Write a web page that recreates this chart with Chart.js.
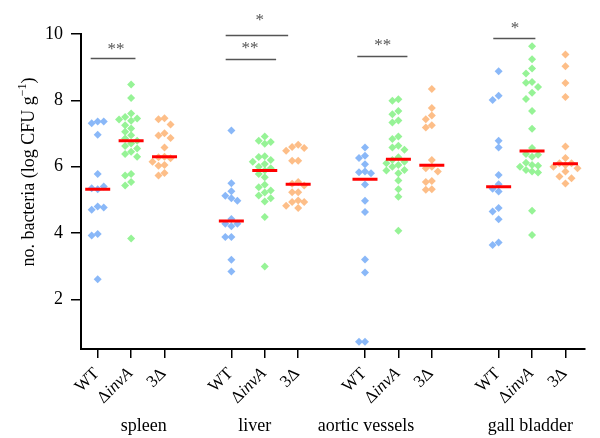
<!DOCTYPE html>
<html lang="en">
<head>
<meta charset="UTF-8">
<title>Bacterial load per organ</title>
<script src="https://cdn.jsdelivr.net/npm/chart.js"></script>
<style>
  body { margin: 0; background: #fff; }
  .chart-box { width: 600px; height: 438px; position: relative; }
</style>
</head>
<body>
<div class="chart-box"><canvas id="cfuChart"></canvas></div>
<script>
// groups on the x axis
const organs = ['spleen', 'liver', 'aortic vessels', 'gall bladder'];
const strains = ['WT', 'ΔinvA', '3Δ'];
const yTicks = [2, 4, 6, 8, 10];

// log CFU per gram
const spleenWT   = [7.36, 7.31, 7.36, 6.96, 5.78, 5.32, 5.35, 5.40, 4.80, 4.70, 4.77, 3.97, 3.92, 2.60];
const spleenInvA = [8.48, 8.07, 7.60, 7.50, 7.45, 7.42, 7.38, 7.25, 7.15, 7.05, 6.95, 6.85, 6.78, 6.70, 6.62, 6.55, 6.45, 6.38, 6.30, 5.78, 5.73, 5.54, 5.43, 3.83];
const spleen3D   = [7.46, 7.43, 7.27, 7.01, 6.94, 6.86, 6.58, 6.30, 6.28, 6.25, 6.15, 6.05, 6.03, 5.81, 5.73];

const liverWT   = [7.09, 5.50, 5.26, 5.12, 5.05, 4.97, 4.42, 4.28, 4.28, 4.20, 3.88, 3.88, 3.19, 2.84];
const liverInvA = [6.91, 6.78, 6.74, 6.69, 6.31, 6.29, 6.20, 6.15, 6.08, 6.00, 5.95, 5.88, 5.78, 5.68, 5.45, 5.38, 5.28, 5.22, 5.13, 5.05, 4.95, 4.48, 2.99];
const liver3D   = [6.66, 6.59, 6.56, 6.48, 6.18, 6.18, 5.54, 5.48, 5.43, 5.23, 5.23, 4.98, 4.93, 4.93, 4.82, 4.75];

const aorticWT   = [6.58, 6.33, 6.26, 6.07, 5.85, 5.83, 5.80, 5.46, 4.97, 4.63, 3.20, 2.81, 0.72, 0.72];
const aorticInvA = [8.03, 7.99, 7.68, 7.58, 7.39, 7.33, 6.91, 6.83, 6.63, 6.58, 6.51, 6.28, 6.20, 6.15, 6.10, 6.05, 6.00, 5.90, 5.88, 5.80, 5.58, 5.32, 5.09, 4.07];
const aortic3D   = [8.34, 7.77, 7.54, 7.43, 7.25, 7.18, 6.20, 6.00, 5.95, 5.85, 5.57, 5.54, 5.32, 5.30];

const gallWT   = [8.88, 8.14, 8.01, 6.78, 6.58, 5.75, 5.47, 5.33, 5.25, 4.75, 4.65, 4.41, 3.71, 3.64];
const gallInvA = [9.63, 9.24, 8.96, 8.81, 8.55, 8.53, 8.40, 8.23, 8.04, 7.68, 7.14, 6.56, 6.38, 6.36, 6.30, 6.12, 6.05, 6.03, 6.00, 5.90, 5.85, 5.82, 4.67, 3.94];
const gall3D   = [9.38, 9.03, 8.52, 8.10, 6.61, 6.26, 6.10, 6.10, 6.05, 6.00, 5.95, 5.85, 5.70, 5.65, 5.49];

// medians (red bars) per organ: WT, ΔinvA, 3Δ
const spleenMedians = [5.32, 6.78, 6.30];
const liverMedians  = [4.36, 5.88, 5.47];
const aorticMedians = [5.62, 6.22, 6.04];
const gallMedians   = [5.39, 6.47, 6.09];

const groups = [
  [spleenWT, spleenInvA, spleen3D],
  [liverWT, liverInvA, liver3D],
  [aorticWT, aorticInvA, aortic3D],
  [gallWT, gallInvA, gall3D]
];
const medians = [spleenMedians, liverMedians, aorticMedians, gallMedians];
const colors = ['rgb(138,184,248)', 'rgb(150,243,150)', 'rgb(253,190,136)'];

// x position of a strain inside an organ group (one empty slot between groups)
const slot = (g, k) => g * 4 + k;
const tickIdx = [];
organs.forEach((o, g) => strains.forEach((s, k) => tickIdx.push(slot(g, k))));

// simple beeswarm so overlapping points spread sideways
function swarm(values, center) {
  const step = 0.18, gapY = 0.2;
  const placed = [];
  return values.map(v => {
    let off = 0;
    for (let k = 0; k < 9; k++) {
      off = k === 0 ? 0 : (k % 2 ? -1 : 1) * Math.ceil(k / 2) * step;
      const hit = placed.some(p => Math.abs(p.y - v) < gapY && Math.abs(p.off - off) < step * 0.9);
      if (!hit) break;
    }
    placed.push({ y: v, off: off });
    return { x: center + off, y: v };
  });
}

const datasets = [];
groups.forEach((grp, g) => {
  grp.forEach((vals, k) => {
    datasets.push({
      label: organs[g] + ' ' + strains[k],
      data: swarm(vals, slot(g, k)),
      backgroundColor: colors[k],
      pointStyle: 'rectRot',
      pointRadius: 4,
      pointBorderWidth: 0,
      order: 2
    });
  });
});
datasets.push({
  label: 'median',
  data: medians.flatMap((m, g) => m.map((v, k) => ({ x: slot(g, k), y: v }))),
  pointStyle: 'line',
  pointRadius: 12.5,
  pointBorderWidth: 3,
  pointBorderColor: '#ff0000',
  borderColor: '#ff0000',
  order: 1
});

// significance bars, in axis units
const sigBars = [
  { from: -0.21, to: 1.13, y: 9.27, text: '**', at: 0.55, ty: 9.64 },
  { from: 3.83, to: 5.70, y: 9.98, text: '*', at: 4.85, ty: 10.52 },
  { from: 3.83, to: 5.34, y: 9.26, text: '**', at: 4.56, ty: 9.67 },
  { from: 7.77, to: 9.27, y: 9.35, text: '**', at: 8.53, ty: 9.77 },
  { from: 11.84, to: 13.10, y: 9.89, text: '*', at: 12.49, ty: 10.27 }
];
const organLabelAt = [1.38, 4.70, 8.03, 12.95];

const serif = '"Liberation Serif", "Times New Roman", serif';

function drawRuns(ctx, runs, xRight, y) {
  let total = 0;
  runs.forEach(r => { ctx.font = r.font; total += ctx.measureText(r.t).width; });
  let x = xRight - total;
  runs.forEach(r => {
    ctx.font = r.font;
    ctx.fillText(r.t, x, y + (r.dy || 0));
    x += ctx.measureText(r.t).width;
  });
}

const figureText = {
  id: 'figureText',
  afterDraw(chart) {
    const ctx = chart.ctx;
    const xs = chart.scales.x, ys = chart.scales.y;
    const area = chart.chartArea;
    ctx.save();
    ctx.fillStyle = '#000';
    ctx.textAlign = 'left';

    // strain labels under each tick, rotated
    const fs = 17;
    tickIdx.forEach((v, i) => {
      const s = strains[i % 3];
      const runs = s === 'ΔinvA'
        ? [{ t: 'Δ', font: fs + 'px ' + serif }, { t: 'invA', font: 'italic ' + fs + 'px ' + serif }]
        : [{ t: s, font: fs + 'px ' + serif }];
      ctx.save();
      ctx.translate(xs.getPixelForValue(v) - 1, area.bottom + 22);
      ctx.rotate(-Math.PI / 4);
      ctx.textBaseline = 'middle';
      drawRuns(ctx, runs, 0, 0);
      ctx.restore();
    });

    // organ names
    ctx.font = '18px ' + serif;
    ctx.textAlign = 'center';
    ctx.textBaseline = 'alphabetic';
    organs.forEach((o, g) => ctx.fillText(o, xs.getPixelForValue(organLabelAt[g]), 431));

    // y axis title with superscript
    ctx.save();
    ctx.translate(29, 172);
    ctx.rotate(-Math.PI / 2);
    ctx.textAlign = 'left';
    ctx.textBaseline = 'middle';
    const tRuns = [
      { t: 'no. bacteria (log CFU g', font: '18px ' + serif },
      { t: '\u22121', font: '12px ' + serif, dy: -6 },
      { t: ')', font: '18px ' + serif }
    ];
    let w = 0;
    tRuns.forEach(r => { ctx.font = r.font; w += ctx.measureText(r.t).width; });
    drawRuns(ctx, tRuns, w / 2, 0);
    ctx.restore();

    // significance brackets
    ctx.strokeStyle = '#555';
    ctx.lineWidth = 1.5;
    ctx.fillStyle = '#555';
    ctx.font = '17px ' + serif;
    ctx.textAlign = 'center';
    ctx.textBaseline = 'alphabetic';
    sigBars.forEach(b => {
      const py = Math.round(ys.getPixelForValue(b.y)) + 0.5;
      ctx.beginPath();
      ctx.moveTo(xs.getPixelForValue(b.from), py);
      ctx.lineTo(xs.getPixelForValue(b.to), py);
      ctx.stroke();
      ctx.fillText(b.text, xs.getPixelForValue(b.at), ys.getPixelForValue(b.ty) + 8);
    });
    ctx.restore();
  }
};

new Chart(document.getElementById('cfuChart'), {
  type: 'scatter',
  data: { datasets: datasets },
  options: {
    responsive: true,
    maintainAspectRatio: false,
    animation: false,
    events: [],
    layout: { padding: { top: 34, right: 3, bottom: 0, left: 0 } },
    plugins: { legend: { display: false }, tooltip: { enabled: false } },
    scales: {
      x: {
        type: 'linear',
        min: -0.5,
        max: 14.57,
        afterBuildTicks: s => { s.ticks = tickIdx.map(v => ({ value: v })); },
        afterFit: s => { s.height = 89; },
        ticks: { display: false },
        grid: { drawOnChartArea: false, tickLength: 9, color: '#000', lineWidth: 1.5 },
        border: { color: '#000', width: 2 }
      },
      y: {
        min: 0.5,
        max: 10,
        afterBuildTicks: s => { s.ticks = yTicks.map(v => ({ value: v })); },
        afterFit: s => { s.width = 81; },
        ticks: { color: '#000', padding: 8, font: { family: serif, size: 18 } },
        grid: { drawOnChartArea: false, tickLength: 10, color: '#000', lineWidth: 1.5 },
        border: { color: '#000', width: 2 }
      }
    }
  },
  plugins: [figureText]
});
</script>
</body>
</html>
